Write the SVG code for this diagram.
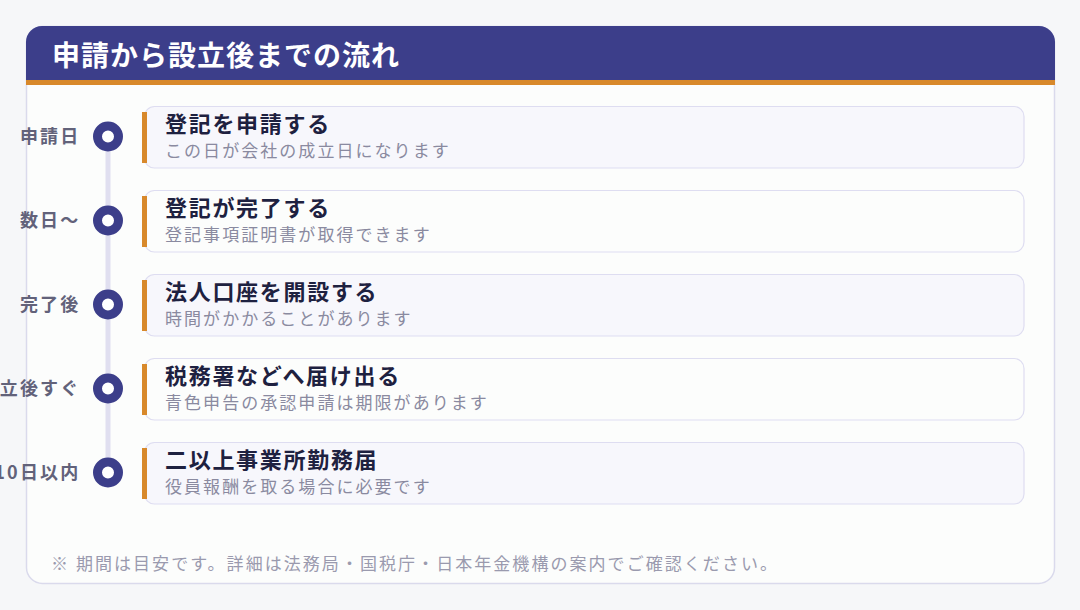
<svg xmlns="http://www.w3.org/2000/svg" width="1080" height="610" viewBox="0 0 1080 610">
  <style>
    .jp { font-family: "Noto Sans CJK JP", "Noto Sans", sans-serif; }
    .title { font-size: 28px; font-weight: 700; fill: #FFFFFF; letter-spacing: 1px; }
    .lbl { font-size: 18px; font-weight: 700; fill: #62627A; letter-spacing: 2.2px; text-anchor: end; }
    .ct { font-size: 22px; font-weight: 700; fill: #1E2140; letter-spacing: 1.7px; }
    .cs { font-size: 17px; font-weight: 400; fill: #8A8AA0; letter-spacing: 2.05px; }
    .note { font-size: 17px; font-weight: 400; fill: #9A9AAE; letter-spacing: 2.05px; }
    .card-a { fill: #F7F7FC; stroke: #DEDDF1; stroke-width: 1.2; }
    .card-b { fill: #FCFDFC; stroke: #DEDDF1; stroke-width: 1.2; }
    .bar { fill: #D8892B; }
    .dot { fill: #FFFFFF; stroke: #3C3E8A; stroke-width: 9; }
  </style>
  <rect x="0" y="0" width="1080" height="610" fill="#F6F7F9"/>
  <g id="panel">
    <rect x="26.5" y="26.5" width="1028" height="557" rx="16" fill="#FCFDFC" stroke="#DADAEC" stroke-width="1.5"/>
    <path d="M26,80 V42 A16,16 0 0 1 42,26 H1039 A16,16 0 0 1 1055,42 V80 Z" fill="#3C3E8A"/>
    <rect x="26" y="80" width="1029" height="5" fill="#D8892B"/>
    <text class="jp title" x="52" y="66">申請から設立後までの流れ</text>
  </g>
  <g id="connectors">
    <line x1="108" y1="136" x2="108" y2="472" stroke="#E0DFF0" stroke-width="5"/>
  </g>
  <g id="step1">
    <text class="jp lbl" x="80.5" y="142.5">申請日</text>
    <circle class="dot" cx="108" cy="136.5" r="10.5"/>
    <rect class="card-a" x="144.5" y="106.5" width="879.5" height="61.5" rx="10"/>
    <rect class="bar" x="142" y="112" width="5" height="51"/>
    <text class="jp ct" x="165" y="132">登記を申請する</text>
    <text class="jp cs" x="165" y="157">この日が会社の成立日になります</text>
  </g>
  <g id="step2">
    <text class="jp lbl" x="80.5" y="226.5">数日〜</text>
    <circle class="dot" cx="108" cy="220.5" r="10.5"/>
    <rect class="card-b" x="144.5" y="190.5" width="879.5" height="61.5" rx="10"/>
    <rect class="bar" x="142" y="196" width="5" height="51"/>
    <text class="jp ct" x="165" y="216">登記が完了する</text>
    <text class="jp cs" x="165" y="241">登記事項証明書が取得できます</text>
  </g>
  <g id="step3">
    <text class="jp lbl" x="80.5" y="310.5">完了後</text>
    <circle class="dot" cx="108" cy="304.5" r="10.5"/>
    <rect class="card-a" x="144.5" y="274.5" width="879.5" height="61.5" rx="10"/>
    <rect class="bar" x="142" y="280" width="5" height="51"/>
    <text class="jp ct" x="165" y="300">法人口座を開設する</text>
    <text class="jp cs" x="165" y="325">時間がかかることがあります</text>
  </g>
  <g id="step4">
    <text class="jp lbl" x="80.5" y="394.5">立後すぐ</text>
    <circle class="dot" cx="108" cy="388.5" r="10.5"/>
    <rect class="card-b" x="144.5" y="358.5" width="879.5" height="61.5" rx="10"/>
    <rect class="bar" x="142" y="364" width="5" height="51"/>
    <text class="jp ct" x="165" y="384">税務署などへ届け出る</text>
    <text class="jp cs" x="165" y="409">青色申告の承認申請は期限があります</text>
  </g>
  <g id="step5">
    <text class="jp lbl" x="80.5" y="478.5">10日以内</text>
    <circle class="dot" cx="108" cy="472.5" r="10.5"/>
    <rect class="card-a" x="144.5" y="442.5" width="879.5" height="61.5" rx="10"/>
    <rect class="bar" x="142" y="448" width="5" height="51"/>
    <text class="jp ct" x="165" y="468">二以上事業所勤務届</text>
    <text class="jp cs" x="165" y="493">役員報酬を取る場合に必要です</text>
  </g>
  <g id="footnote">
    <text class="jp note" x="51" y="570">※ 期間は目安です。詳細は法務局・国税庁・日本年金機構の案内でご確認ください。</text>
  </g>
</svg>
